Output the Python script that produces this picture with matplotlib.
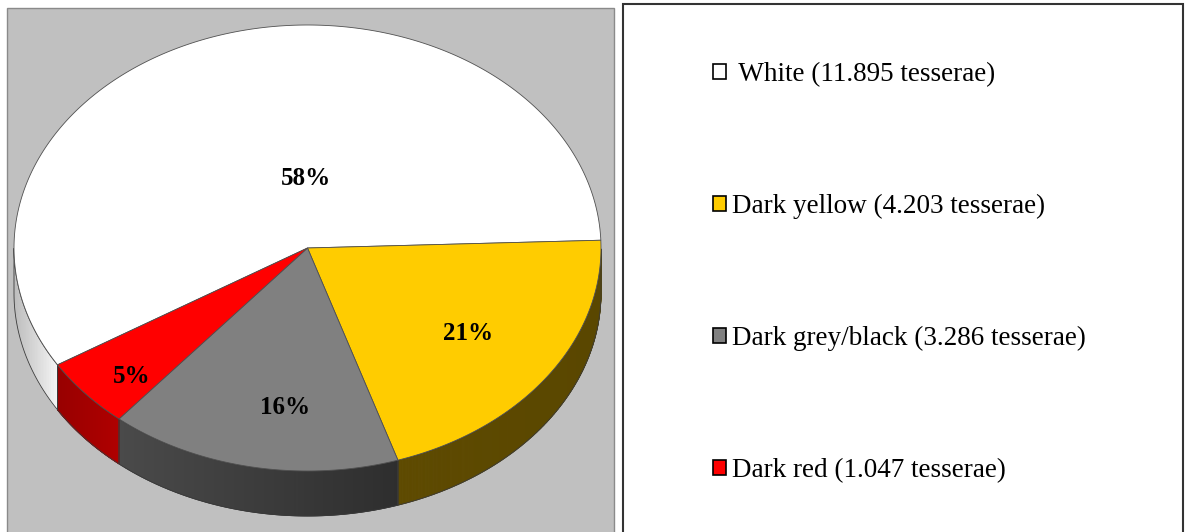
import numpy as np
import matplotlib.pyplot as plt
from matplotlib.patches import Polygon, Rectangle, Patch
from matplotlib.colors import to_rgb

labels = ['White (11.895 tesserae)', 'Dark yellow (4.203 tesserae)',
          'Dark grey/black (3.286 tesserae)', 'Dark red (1.047 tesserae)']
counts = [11895, 4203, 3286, 1047]
top_colors = ['#FFFFFF', '#FFCC00', '#808080', '#FF0000']
# side wall shading, (left end, right end)
side_colors = [('#bdbdbd', '#f6f6f6'), ('#5e4a00', '#5a4700'),
               ('#4a4a4a', '#2e2e2e'), ('#980000', '#b00000')]

# pie geometry in pixels
cx, cy = 307.5, 248.0
rx, ry = 293.5, 223.0
depth = 45.0
end_angle = 2.0   # where the first slice (white) ends, going clockwise

# label placement (radius fraction, angle shift in degrees)
lbl_r = [0.31, 0.67, 0.72, 0.83]
lbl_shift = [-16, 0, 5, 3]

plt.rcParams['font.family'] = ['Liberation Serif', 'DejaVu Serif']

fig = plt.figure(figsize=(11.86, 5.32), dpi=100)
ax = fig.add_axes([0, 0, 1, 1])
ax.set_xlim(0, 1186)
ax.set_ylim(532, 0)
ax.axis('off')

# grey plot area and legend box
ax.add_patch(Rectangle((7, 8), 607, 540, fc='#c0c0c0', ec='#8a8a8a', lw=1, zorder=0))
ax.add_patch(Rectangle((623, 4), 560, 540, fc='white', ec='#333333', lw=1.5, zorder=0))


def pt(theta_deg, dy=0.0):
    t = np.radians(theta_deg)
    return cx + rx * np.cos(t), cy - ry * np.sin(t) + dy


total = float(sum(counts))
fracs = [c / total for c in counts]
start = end_angle + 360 * fracs[0]
bounds = [start]
for f in fracs:
    bounds.append(bounds[-1] - 360 * f)

# side walls
for i in range(len(counts)):
    t_hi, t_lo = bounds[i], bounds[i + 1]
    th = np.linspace(t_hi, t_lo, 300)
    vis = np.sin(np.radians(th)) < 0
    if not vis.any():
        continue
    th = th[vis]
    xs = cx + rx * np.cos(np.radians(th))
    c0, c1 = np.array(to_rgb(side_colors[i][0])), np.array(to_rgb(side_colors[i][1]))
    xmin, xmax = xs.min(), xs.max()
    for k in range(len(th) - 1):
        fr = 0.5 if xmax == xmin else ((xs[k] + xs[k + 1]) / 2 - xmin) / (xmax - xmin)
        col = c0 + (c1 - c0) * fr
        p1, p2 = pt(th[k]), pt(th[k + 1])
        quad = [p1, p2, (p2[0], p2[1] + depth), (p1[0], p1[1] + depth)]
        ax.add_patch(Polygon(quad, closed=True, fc=col, ec=col, lw=0.6, zorder=2))
    top = [pt(t) for t in th]
    bot = [pt(t, depth) for t in th[::-1]]
    ax.add_patch(Polygon(top + bot, closed=True, fill=False, ec='#3a3a3a', lw=0.6, zorder=3))

# top surface
for i in range(len(counts)):
    th = np.linspace(bounds[i], bounds[i + 1], 300)
    poly = [(cx, cy)] + [pt(t) for t in th]
    ax.add_patch(Polygon(poly, closed=True, fc=top_colors[i], ec='#505050', lw=0.6, zorder=4))

# percentage labels
for i in range(len(counts)):
    mid = (bounds[i] + bounds[i + 1]) / 2 + lbl_shift[i]
    t = np.radians(mid)
    x = cx + lbl_r[i] * rx * np.cos(t)
    y = cy - lbl_r[i] * ry * np.sin(t)
    ax.text(x, y, '%d%%' % round(100 * fracs[i]), ha='center', va='center',
            fontsize=18, fontweight='bold', color='black', zorder=5)

# legend
handles = [Patch(fc=c, ec='black', lw=1.2) for c in top_colors]
leg_labels = [' ' + labels[0]] + labels[1:]
ax.legend(handles, leg_labels, loc='upper left', bbox_to_anchor=(713, 62),
          bbox_transform=ax.transData, frameon=False, fontsize=19.5,
          labelspacing=3.95, handlelength=0.49, handleheight=0.49,
          handletextpad=0.22, borderpad=0, borderaxespad=0)

fig.savefig('out.png', dpi=100)
